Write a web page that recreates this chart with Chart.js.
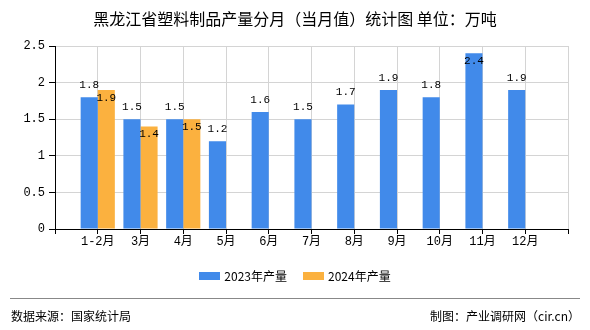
<!DOCTYPE html>
<html>
<head>
<meta charset="utf-8">
<script src="https://cdn.jsdelivr.net/npm/chart.js@4.4.1/dist/chart.umd.min.js"></script>
<style>
  body { margin: 0; background: #fff; }
  #wrap { position: relative; width: 590px; height: 330px; background: #fff; font-family: "Noto Sans CJK SC", sans-serif; }
  #titulo { position: absolute; top: 7px; left: 0; width: 590px; text-align: center; font-size: 16px; line-height: 22px; color: #000; }
  #legenda { position: absolute; top: 268px; left: 0; width: 590px; text-align: center; font-size: 12px; line-height: 16px; color: #000; }
  #legenda span.item { display: inline-block; margin: 0 8px; }
  #legenda span.caixa { display: inline-block; width: 21px; height: 8px; margin-right: 4px; vertical-align: 1px; }
  #linha { position: absolute; top: 298px; left: 10px; width: 570px; height: 0; border-top: 1px solid #888; }
  #fonte { position: absolute; top: 308px; left: 11px; font-size: 12px; line-height: 16px; color: #000; }
  #autor { position: absolute; top: 308px; right: 10px; font-size: 12px; line-height: 16px; color: #000; }
  canvas { position: absolute; top: 0; left: 0; }
</style>
</head>
<body>
<div id="wrap">
  <canvas id="grafico" width="590" height="330"></canvas>
  <div id="titulo">黑龙江省塑料制品产量分月（当月值）统计图 单位：万吨</div>
  <div id="legenda"></div>
  <div id="linha"></div>
  <div id="fonte">数据来源：国家统计局</div>
  <div id="autor">制图：产业调研网（cir.cn）</div>
</div>
<script>
    // categorias (com posições vazias nas pontas, como no original)
    let meses = ["", "1-2月", "3月", "4月", "5月", "6月", "7月", "8月", "9月", "10月", "11月", "12月", ""];
    let producao2023 = [null, 1.8, 1.5, 1.5, 1.2, 1.6, 1.5, 1.7, 1.9, 1.8, 2.4, 1.9, null];
    let producao2024 = [null, 1.9, 1.4, 1.5, null, null, null, null, null, null, null, null, null];
    let nomesSeries = ["2023年产量", "2024年产量"];
    let cores = ["#418AEA", "#FBB13F"];
    let ticksY = [0, 0.5, 1, 1.5, 2, 2.5];

    let fonteNum = "'Liberation Mono', 'Noto Sans CJK SC', monospace";

    // legenda em html
    let legenda = document.getElementById("legenda");
    nomesSeries.forEach((nome, i) => {
      let item = document.createElement("span");
      item.className = "item";
      item.innerHTML = '<span class="caixa" style="background:' + cores[i] + '"></span>' + nome;
      legenda.appendChild(item);
    });

    // rótulos de valor nas barras
    let rotulos = {
      id: "rotulos",
      afterDatasetsDraw(chart) {
        let ctx = chart.ctx;
        ctx.save();
        ctx.font = "11px " + fonteNum;
        ctx.fillStyle = "#000";
        ctx.textAlign = "center";
        ctx.textBaseline = "middle";
        chart.data.datasets.forEach((ds, d) => {
          let meta = chart.getDatasetMeta(d);
          meta.data.forEach((bar, i) => {
            let v = ds.data[i];
            if (v === null || v === undefined) return;
            let y;
            if (d === 0 && bar.y - 16 >= chart.chartArea.top) {
              y = bar.y - 12;
            } else {
              y = bar.y + 8;
            }
            ctx.fillText(v.toFixed(1), bar.x, y);
          });
        });
        ctx.restore();
      }
    };

    let grafico = new Chart(document.getElementById("grafico").getContext("2d"), {
      type: "bar",
      data: {
        labels: meses,
        datasets: [
          { label: nomesSeries[0], data: producao2023, backgroundColor: cores[0], categoryPercentage: 0.8, barPercentage: 1 },
          { label: nomesSeries[1], data: producao2024, backgroundColor: cores[1], categoryPercentage: 0.8, barPercentage: 1 }
        ]
      },
      options: {
        responsive: false,
        animation: false,
        layout: { padding: { top: 46, right: 22, left: 0, bottom: 81 } },
        plugins: {
          legend: { display: false },
          title: { display: false },
          tooltip: { enabled: false }
        },
        scales: {
          x: {
            offset: false,
            grid: { color: "#d4d4d4", tickColor: "#000", tickLength: 5, offset: false },
            border: { color: "#000", width: 1 },
            ticks: { color: "#000", font: { size: 12, family: fonteNum }, padding: 1, maxRotation: 0, autoSkip: false },
            afterFit(scale) { scale.height = 20; }
          },
          y: {
            min: 0,
            max: 2.5,
            afterBuildTicks(scale) { scale.ticks = ticksY.map(v => ({ value: v })); },
            grid: { color: "#d4d4d4", tickColor: "#000", tickLength: 6 },
            border: { color: "#000", width: 1 },
            ticks: { color: "#000", font: { size: 12, family: fonteNum }, padding: 4, callback: v => String(v) },
            afterFit(scale) { scale.width = 55; }
          }
        }
      },
      plugins: [rotulos]
    });
</script>
</body>
</html>
